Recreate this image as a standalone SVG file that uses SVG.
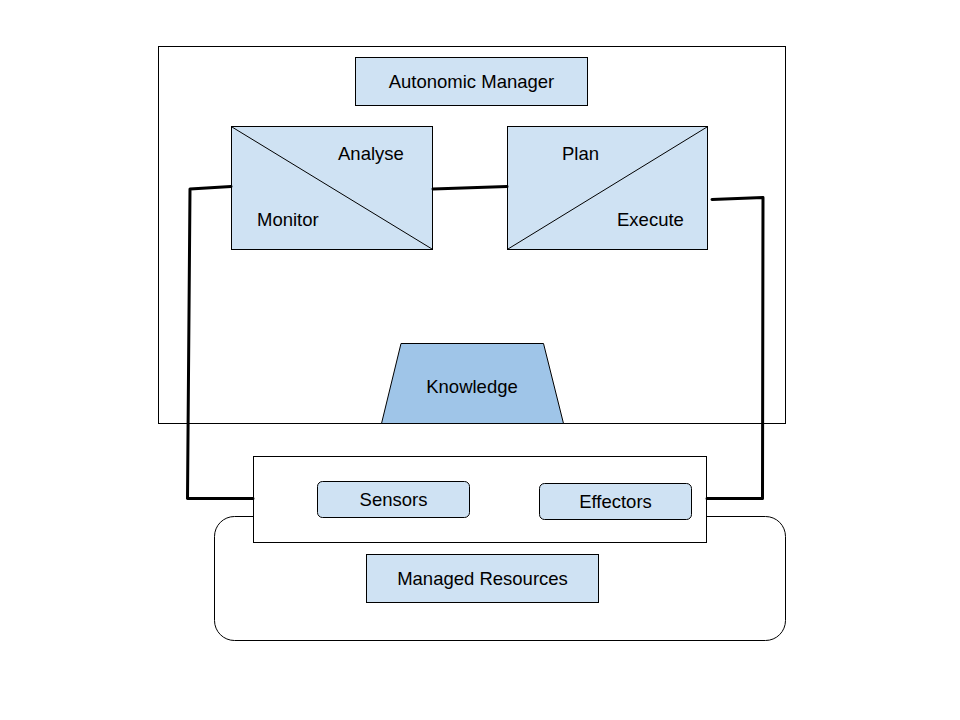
<svg xmlns="http://www.w3.org/2000/svg" width="960" height="720" viewBox="0 0 960 720">
<style>
.box{fill:#cfe2f3;stroke:#000;stroke-width:1}
.frame{fill:none;stroke:#000;stroke-width:1}
.diag{stroke:#000;stroke-width:1;fill:none}
.conn{fill:none;stroke:#000;stroke-width:3;stroke-linejoin:round;stroke-linecap:round}
text{font-family:"Liberation Sans",Arial,sans-serif;font-size:18.5px;fill:#000}
.c{text-anchor:middle}
</style>
<rect width="960" height="720" fill="#fff"/>
<g id="autonomic-frame"><rect class="frame" x="158.5" y="46.5" width="627" height="377"/></g>
<g id="autonomic-manager"><rect class="box" x="355.5" y="57.5" width="232" height="48"/><text class="c" x="471.5" y="88">Autonomic Manager</text></g>
<g id="monitor-analyse"><rect class="box" x="231.5" y="126.5" width="201" height="123"/><line class="diag" x1="232" y1="127" x2="432" y2="249"/><text x="338" y="160">Analyse</text><text x="257" y="226">Monitor</text></g>
<g id="plan-execute"><rect class="box" x="507.5" y="126.5" width="200" height="123"/><line class="diag" x1="508" y1="249" x2="707" y2="127"/><text x="562" y="160">Plan</text><text x="617" y="226">Execute</text></g>
<g id="knowledge"><polygon points="401,343.5 543.5,343.5 563.5,423.5 381.5,423.5" fill="#9fc5e8" stroke="#000" stroke-width="1"/><text class="c" x="472" y="393">Knowledge</text></g>
<g id="managed-resources"><rect class="frame" x="214.5" y="516.5" width="571" height="124" rx="20"/><rect class="box" x="366.5" y="554.5" width="232" height="48"/><text class="c" x="482.5" y="585">Managed Resources</text></g>
<g id="touchpoint"><rect x="253.5" y="456.5" width="453" height="86" fill="#fff" stroke="#000" stroke-width="1"/></g>
<g id="sensors"><rect class="box" x="317.5" y="481.5" width="152" height="36" rx="5"/><text class="c" x="393.5" y="506">Sensors</text></g>
<g id="effectors"><rect class="box" x="539.5" y="483.5" width="152" height="36" rx="5"/><text class="c" x="615.5" y="508">Effectors</text></g>
<g id="connectors">
<polyline class="conn" points="231,186.5 190,189 187.5,498.5 253,498.5"/>
<polyline class="conn" points="433,189 507,186.5"/>
<polyline class="conn" points="712,199.5 763,197.5 762.5,498.5 707,498.5"/>
</g>
</svg>
